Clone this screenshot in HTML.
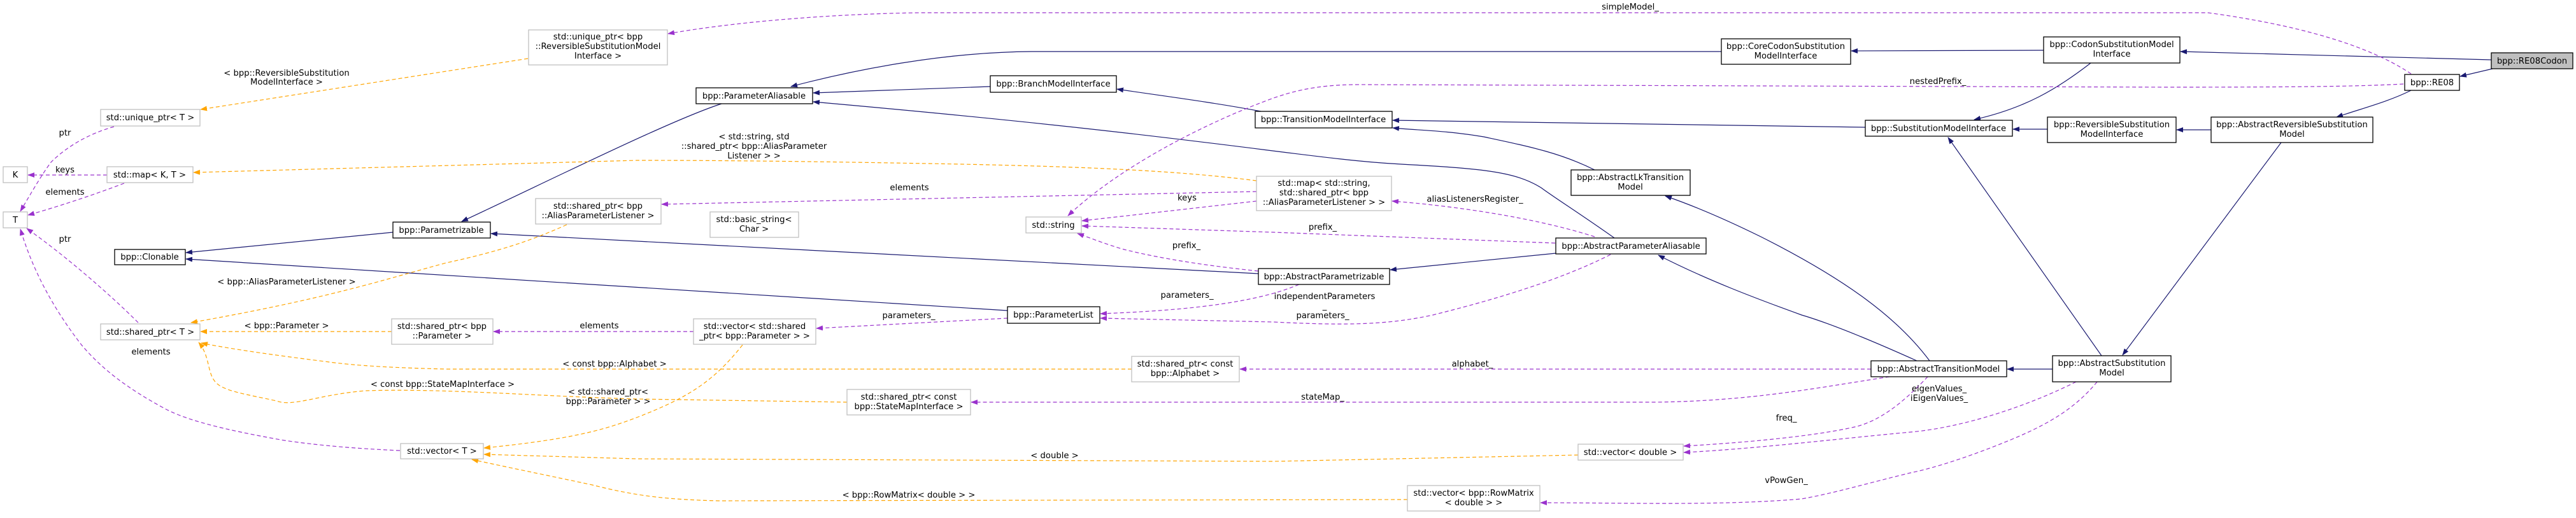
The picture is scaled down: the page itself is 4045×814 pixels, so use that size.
<!DOCTYPE html>
<html><head><meta charset="utf-8"><style>
html,body{margin:0;padding:0;background:#fff;}
svg text{font-family:"DejaVu Sans","Liberation Sans",sans-serif;font-size:13.2px;fill:#000;}
.n{fill:#fff;stroke:#000;stroke-width:1.3}
.g{fill:#fff;stroke:#bfbfbf;stroke-width:1.3}
.s{fill:none;stroke:#191970;stroke-width:1.2}
.p{fill:none;stroke:#9a32cd;stroke-width:1.2;stroke-dasharray:6,4}
.o{fill:none;stroke:#ffa500;stroke-width:1.2;stroke-dasharray:6,4}
</style></head><body>
<svg width="4045" height="809" viewBox="0 0 4045 809" xmlns="http://www.w3.org/2000/svg">
<defs>
<marker id="an" markerWidth="11" markerHeight="8" refX="10" refY="4" orient="auto" markerUnits="userSpaceOnUse"><path d="M0,0 L11,4 L0,8 z" fill="#191970"/></marker>
<marker id="ap" markerWidth="11" markerHeight="8" refX="10" refY="4" orient="auto" markerUnits="userSpaceOnUse"><path d="M0,0 L11,4 L0,8 z" fill="#9a32cd"/></marker>
<marker id="ao" markerWidth="11" markerHeight="8" refX="10" refY="4" orient="auto" markerUnits="userSpaceOnUse"><path d="M0,0 L11,4 L0,8 z" fill="#ffa500"/></marker>
</defs>

<g marker-end="url(#an)">
<path class="s" d="M617,365 L292,397"/>
<path class="s" d="M1582,488 L292,407"/>
<path class="s" d="M1133,163 C1050,190 850,290 725,348"/>
<path class="s" d="M1976,430 L771,367"/>
<path class="s" d="M1555,136 L1277,146"/>
<path class="s" d="M2535,374 C2480,335 2440,310 2420,295 C2380,270 2330,265 2200,258 C2050,250 1900,215 1277,160"/>
<path class="s" d="M2703,81 L1620,81 C1480,82 1340,110 1242,136"/>
<path class="s" d="M1980,175 C1900,160 1820,150 1754,140"/>
<path class="s" d="M2929,200 L2187,189"/>
<path class="s" d="M2504,267 C2450,240 2400,230 2330,215 C2270,205 2230,205 2187,201"/>
<path class="s" d="M2443,398 L2183,424"/>
<path class="s" d="M3209,79 L2907,80"/>
<path class="s" d="M3912,94 L3424,81"/>
<path class="s" d="M3283,99 C3230,140 3180,170 3100,188"/>
<path class="s" d="M3215,203 L3161,203"/>
<path class="s" d="M3472,204 L3418,204"/>
<path class="s" d="M3786,142 C3750,160 3710,170 3669,184"/>
<path class="s" d="M3914,108 L3863,120"/>
<path class="s" d="M3582,224 L3333,558"/>
<path class="s" d="M3300,559 L3059,216"/>
<path class="s" d="M3223,580 L3152,580"/>
<path class="s" d="M3030,567 C2980,500 2900,440 2765,372 C2700,340 2650,320 2615,308"/>
<path class="s" d="M3010,567 C2950,540 2880,510 2829,495 C2760,470 2680,440 2604,401"/>
</g>

<g marker-end="url(#ap)">
<path class="p" d="M3786,116 C3740,85 3650,45 3467,20 L1446,20 C1300,22 1150,35 1049,53"/>
<path class="p" d="M3774,132 C3700,136 3600,137 3400,137 L2147,133 C2080,132 2040,140 2000,154 C1900,190 1760,260 1677,339"/>
<path class="p" d="M1973,316 L1699,347"/>
<path class="p" d="M1973,301 L1039,321"/>
<path class="p" d="M2442,382 L2000,365 L1699,355"/>
<path class="p" d="M1976,426 C1900,418 1830,408 1765,392 C1740,385 1715,375 1692,367"/>
<path class="p" d="M2504,372 C2420,345 2300,325 2186,316"/>
<path class="p" d="M2040,447 C2020,455 2005,460 1980,466 C1900,485 1800,490 1728,493"/>
<path class="p" d="M2529,400 C2450,440 2350,470 2250,495 C2180,510 2120,512 2000,506 L1728,500"/>
<path class="p" d="M1582,500 L1282,516"/>
<path class="p" d="M1089,521 L775,521"/>
<path class="p" d="M2938,580 L1947,580"/>
<path class="p" d="M2967,592 C2850,610 2750,630 2600,632 L1525,632"/>
<path class="p" d="M3027,592 C3000,620 2960,660 2912,671 C2850,685 2750,695 2644,701"/>
<path class="p" d="M3260,600 C3180,640 3080,672 3000,679 C2880,690 2760,705 2644,711"/>
<path class="p" d="M3293,600 C3260,640 3220,665 3160,690 C3100,715 3040,735 3000,743 C2930,760 2880,775 2829,784 C2700,795 2550,790 2419,790"/>
<path class="p" d="M179,199 C140,210 105,230 80,255 C65,275 45,310 32,332"/>
<path class="p" d="M168,275 L44,275"/>
<path class="p" d="M195,288 C150,305 100,322 44,338"/>
<path class="p" d="M217,507 C170,460 100,400 42,359"/>
<path class="p" d="M628,708 C560,705 500,700 446,692 C350,675 290,660 255,640 C200,610 160,580 128,542 C80,480 50,420 32,360"/>
</g>

<g marker-end="url(#ao)">
<path class="o" d="M829,92 L315,172"/>
<path class="o" d="M1973,284 C1850,268 1700,262 1510,258 C1300,254 1150,252 1000,252 L304,271"/>
<path class="o" d="M890,353 C820,385 760,400 701,413 C600,440 520,468 300,507"/>
<path class="o" d="M615,521 L315,521"/>
<path class="o" d="M1777,580 L701,580 C620,578 560,575 510,568 C430,558 360,548 316,539"/>
<path class="o" d="M1330,632 L1000,627 C850,623 700,610 574,614 C500,620 460,640 434,630 C390,620 350,615 338,600 C325,585 330,560 312,538"/>
<path class="o" d="M1166,542 C1120,600 1080,625 1000,656 C950,675 900,690 760,704"/>
<path class="o" d="M2478,715 L2000,725 L1000,721 L760,714"/>
<path class="o" d="M2210,785 L1128,787 C1050,785 1000,780 930,762 C850,745 800,735 741,722"/>
</g>

<rect class="g" x="830" y="47" width="218" height="55"/>
<text x="939" y="62" text-anchor="middle">std::unique_ptr&lt; bpp</text>
<text x="939" y="77" text-anchor="middle">::ReversibleSubstitutionModel</text>
<text x="939" y="92" text-anchor="middle">Interface &gt;</text>

<rect class="g" x="158" y="172" width="156" height="26"/><text x="236" y="189" text-anchor="middle">std::unique_ptr&lt; T &gt;</text>
<rect class="g" x="5" y="262" width="38" height="25"/><text x="24" y="279" text-anchor="middle">K</text>
<rect class="g" x="168" y="262" width="135" height="25"/><text x="235" y="279" text-anchor="middle">std::map&lt; K, T &gt;</text>
<rect class="g" x="5" y="333" width="38" height="25"/><text x="24" y="350" text-anchor="middle">T</text>
<rect class="n" x="180" y="392" width="111" height="24"/><text x="235" y="408" text-anchor="middle">bpp::Clonable</text>
<rect class="n" x="617" y="349" width="153" height="25"/><text x="693" y="366" text-anchor="middle">bpp::Parametrizable</text>
<rect class="g" x="841" y="312" width="197" height="40"/>
<text x="939" y="328" text-anchor="middle">std::shared_ptr&lt; bpp</text>
<text x="939" y="343" text-anchor="middle">::AliasParameterListener &gt;</text>
<rect class="g" x="158" y="509" width="156" height="25"/><text x="236" y="526" text-anchor="middle">std::shared_ptr&lt; T &gt;</text>
<rect class="g" x="615" y="501" width="159" height="40"/>
<text x="694" y="517" text-anchor="middle">std::shared_ptr&lt; bpp</text>
<text x="694" y="532" text-anchor="middle">::Parameter &gt;</text>
<rect class="g" x="629" y="697" width="130" height="24"/><text x="694" y="713" text-anchor="middle">std::vector&lt; T &gt;</text>

<rect class="n" x="1093" y="138" width="183" height="25"/><text x="1184" y="155" text-anchor="middle">bpp::ParameterAliasable</text>
<rect class="n" x="1555" y="119" width="198" height="26"/><text x="1654" y="136" text-anchor="middle">bpp::BranchModelInterface</text>
<rect class="g" x="1115" y="333" width="139" height="40"/>
<text x="1184" y="349" text-anchor="middle">std::basic_string&lt;</text>
<text x="1184" y="364" text-anchor="middle">Char &gt;</text>
<rect class="g" x="1611" y="341" width="87" height="25"/><text x="1654" y="358" text-anchor="middle">std::string</text>
<rect class="n" x="1582" y="482" width="145" height="26"/><text x="1654" y="499" text-anchor="middle">bpp::ParameterList</text>
<rect class="g" x="1089" y="501" width="192" height="40"/>
<text x="1185" y="517" text-anchor="middle">std::vector&lt; std::shared</text>
<text x="1185" y="532" text-anchor="middle">_ptr&lt; bpp::Parameter &gt; &gt;</text>
<rect class="g" x="1777" y="560" width="169" height="40"/>
<text x="1861" y="576" text-anchor="middle">std::shared_ptr&lt; const</text>
<text x="1861" y="591" text-anchor="middle">bpp::Alphabet &gt;</text>
<rect class="g" x="1330" y="612" width="194" height="40"/>
<text x="1427" y="628" text-anchor="middle">std::shared_ptr&lt; const</text>
<text x="1427" y="643" text-anchor="middle">bpp::StateMapInterface &gt;</text>
<rect class="g" x="1973" y="277" width="212" height="54"/>
<text x="2079" y="292" text-anchor="middle">std::map&lt; std::string,</text>
<text x="2079" y="307" text-anchor="middle">std::shared_ptr&lt; bpp</text>
<text x="2079" y="322" text-anchor="middle">::AliasParameterListener &gt; &gt;</text>
<rect class="n" x="1971" y="175" width="215" height="26"/><text x="2078" y="192" text-anchor="middle">bpp::TransitionModelInterface</text>
<rect class="n" x="1976" y="422" width="206" height="25"/><text x="2079" y="439" text-anchor="middle">bpp::AbstractParametrizable</text>

<rect class="n" x="2703" y="61" width="203" height="40"/>
<text x="2804" y="77" text-anchor="middle">bpp::CoreCodonSubstitution</text>
<text x="2804" y="92" text-anchor="middle">ModelInterface</text>
<rect class="n" x="2929" y="189" width="231" height="25"/><text x="3044" y="206" text-anchor="middle">bpp::SubstitutionModelInterface</text>
<rect class="n" x="2467" y="267" width="187" height="40"/>
<text x="2560" y="283" text-anchor="middle">bpp::AbstractLkTransition</text>
<text x="2560" y="298" text-anchor="middle">Model</text>
<rect class="n" x="2443" y="374" width="236" height="25"/><text x="2561" y="391" text-anchor="middle">bpp::AbstractParameterAliasable</text>
<rect class="g" x="2478" y="698" width="165" height="25"/><text x="2560" y="715" text-anchor="middle">std::vector&lt; double &gt;</text>
<rect class="g" x="2210" y="763" width="208" height="40"/>
<text x="2314" y="779" text-anchor="middle">std::vector&lt; bpp::RowMatrix</text>
<text x="2314" y="794" text-anchor="middle">&lt; double &gt; &gt;</text>
<rect class="n" x="2938" y="567" width="213" height="25"/><text x="3044" y="584" text-anchor="middle">bpp::AbstractTransitionModel</text>

<rect class="n" x="3209" y="58" width="214" height="41"/>
<text x="3316" y="74" text-anchor="middle">bpp::CodonSubstitutionModel</text>
<text x="3316" y="89" text-anchor="middle">Interface</text>
<rect x="3912" y="83" width="128" height="25" fill="#bfbfbf" stroke="#000" stroke-width="1.3"/><text x="3976" y="100" text-anchor="middle">bpp::RE08Codon</text>
<rect class="n" x="3776" y="117" width="86" height="25"/><text x="3819" y="134" text-anchor="middle">bpp::RE08</text>
<rect class="n" x="3215" y="184" width="202" height="40"/>
<text x="3316" y="200" text-anchor="middle">bpp::ReversibleSubstitution</text>
<text x="3316" y="215" text-anchor="middle">ModelInterface</text>
<rect class="n" x="3472" y="184" width="254" height="40"/>
<text x="3599" y="200" text-anchor="middle">bpp::AbstractReversibleSubstitution</text>
<text x="3599" y="215" text-anchor="middle">Model</text>
<rect class="n" x="3223" y="559" width="186" height="41"/>
<text x="3316" y="575" text-anchor="middle">bpp::AbstractSubstitution</text>
<text x="3316" y="590" text-anchor="middle">Model</text>

<g text-anchor="middle">
<text x="450" y="119">&lt; bpp::ReversibleSubstitution</text>
<text x="450" y="133">ModelInterface &gt;</text>
<text x="102" y="213">ptr</text>
<text x="102" y="271">keys</text>
<text x="102" y="306">elements</text>
<text x="102" y="380">ptr</text>
<text x="450" y="447">&lt; bpp::AliasParameterListener &gt;</text>
<text x="450" y="516">&lt; bpp::Parameter &gt;</text>
<text x="237" y="557">elements</text>
<text x="965" y="576">&lt; const bpp::Alphabet &gt;</text>
<text x="695" y="608">&lt; const bpp::StateMapInterface &gt;</text>
<text x="955" y="620">&lt; std::shared_ptr&lt;</text>
<text x="955" y="635">bpp::Parameter &gt; &gt;</text>
<text x="941" y="516">elements</text>
<text x="1184" y="219">&lt; std::string, std</text>
<text x="1184" y="234">::shared_ptr&lt; bpp::AliasParameter</text>
<text x="1184" y="249">Listener &gt; &gt;</text>
<text x="1428" y="299">elements</text>
<text x="1864" y="315">keys</text>
<text x="1863" y="390">prefix_</text>
<text x="1864" y="468">parameters_</text>
<text x="1427" y="500">parameters_</text>
<text x="1656" y="720">&lt; double &gt;</text>
<text x="1427" y="782">&lt; bpp::RowMatrix&lt; double &gt; &gt;</text>
<text x="2560" y="15">simpleModel_</text>
<text x="3043" y="132">nestedPrefix_</text>
<text x="2316" y="317">aliasListenersRegister_</text>
<text x="2077" y="361">prefix_</text>
<text x="2080" y="470">independentParameters</text>
<text x="2080" y="485">_</text>
<text x="2077" y="500">parameters_</text>
<text x="2312" y="576">alphabet_</text>
<text x="2077" y="628">stateMap_</text>
<text x="2805" y="661">freq_</text>
<text x="2805" y="759">vPowGen_</text>
<text x="3045" y="615">eigenValues_</text>
<text x="3045" y="630">iEigenValues_</text>
</g>
</svg>
</body></html>
